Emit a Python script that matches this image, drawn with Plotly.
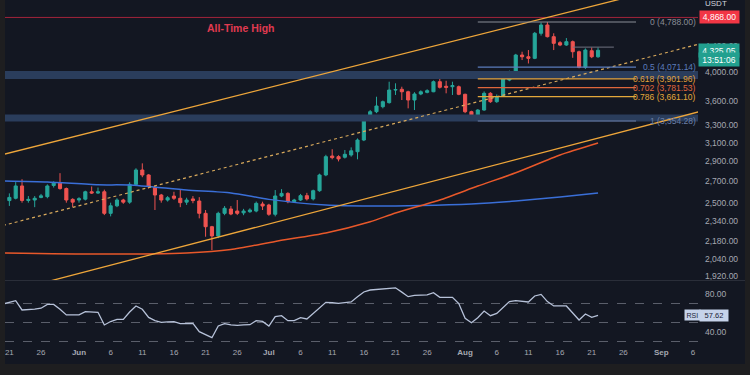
import math
import pandas as pd
import plotly.graph_objects as go

# ---------------- data ----------------
candle_dates = pd.date_range("2025-05-21", "2025-08-22", freq="D")
opens = [2519, 2540, 2655, 2520, 2524, 2548, 2555, 2660, 2682, 2630, 2530,
         2524, 2532, 2600, 2588, 2600, 2406, 2472, 2524, 2505, 2670, 2812, 2762, 2640, 2570,
         2524, 2560, 2540, 2505, 2534, 2515, 2406, 2293, 2218, 2406, 2444, 2426, 2410, 2420,
         2426, 2488,
         2479, 2398, 2561, 2585, 2509, 2524, 2564, 2534, 2610, 2762, 2957, 2950, 2944, 2968,
         3003, 3132, 3366, 3468, 3531, 3583, 3749, 3759, 3726, 3617, 3696, 3718, 3726, 3863,
         3800, 3794, 3794,
         3692, 3468, 3386, 3489, 3705, 3595, 3669, 3886, 4004, 4252, 4226, 4202, 4598, 4737,
         4542, 4445, 4408, 4461, 4303, 4068, 4318, 4226]
highs = [2585, 2692, 2720, 2560, 2560, 2580, 2670, 2700, 2780, 2640, 2540,
         2550, 2610, 2650, 2640, 2620, 2500, 2540, 2535, 2690, 2830, 2880, 2770, 2650, 2580,
         2560, 2600, 2620, 2545, 2560, 2550, 2435, 2300, 2420, 2470, 2470, 2524, 2445, 2450,
         2510, 2509,
         2490, 2616, 2625, 2595, 2535, 2580, 2590, 2620, 2775, 2970, 3030, 2965, 3022, 3050,
         3150, 3380, 3490, 3660, 3610, 3863, 3841, 3794, 3740, 3720, 3745, 3760, 3880, 3957,
         3876, 3863, 3810,
         3700, 3480, 3500, 3730, 3720, 3690, 3920, 4020, 4270, 4303, 4329, 4620, 4780, 4788,
         4598, 4470, 4520, 4480, 4320, 4355, 4370, 4370]
lows = [2471, 2530, 2500, 2500, 2460, 2540, 2540, 2640, 2620, 2500, 2460,
        2500, 2520, 2580, 2580, 2391, 2380, 2460, 2490, 2490, 2660, 2740, 2630, 2435, 2500,
        2510, 2525, 2460, 2480, 2495, 2363, 2212, 2108, 2200, 2390, 2390, 2391, 2390, 2410,
        2415, 2435,
        2385, 2380, 2550, 2495, 2500, 2515, 2520, 2520, 2600, 2750, 2922, 2900, 2930, 2950,
        2922, 3120, 3350, 3450, 3510, 3570, 3683, 3617, 3510, 3489, 3680, 3705, 3720, 3770,
        3705, 3683, 3680,
        3450, 3366, 3354.28, 3480, 3580, 3580, 3660, 3870, 3990, 4176, 4125, 4190, 4560, 4530,
        4329, 4390, 4395, 4210, 4054, 4044, 4205, 4210]
closes = [2548, 2655, 2520, 2530, 2540, 2562, 2655, 2682, 2630, 2524, 2505,
          2536, 2600, 2588, 2600, 2406, 2472, 2524, 2505, 2670, 2812, 2762, 2648, 2570, 2524,
          2545, 2540, 2500, 2524, 2519, 2406, 2293, 2218, 2406, 2450, 2400, 2406, 2426, 2435,
          2494, 2470,
          2398, 2561, 2585, 2509, 2524, 2564, 2534, 2610, 2762, 2950, 2940, 2926, 2975, 3013,
          3132, 3366, 3468, 3540, 3595, 3749, 3755, 3726, 3617, 3696, 3726, 3740, 3863, 3786,
          3786, 3810, 3692,
          3468, 3386, 3489, 3705, 3595, 3660, 3910, 4004, 4252, 4226, 4202, 4598, 4737, 4542,
          4435, 4408, 4461, 4303, 4068, 4329, 4226, 4325.05]

rsi_dates = pd.date_range("2025-05-20", "2025-08-22", freq="D")
rsi_values = [69.5, 71, 73, 63.2, 63.5, 64, 65, 69, 69, 64, 58, 58,
              58, 61.4, 60.7, 60.7, 47.4, 51, 53.3, 53.3, 61, 67.4, 63.9, 55.4, 52, 50.2,
              50.6, 50.9, 48.8, 49, 49.1, 40.3, 37, 34, 46.3, 48.8, 47.5, 47, 47.5, 47.7,
              51.9, 51.2,
              46.3, 56.1, 57.2, 51.9, 51.9, 55.1, 53.7, 59.6, 66, 71.2, 71, 70.2, 71, 71.6,
              77, 82.1, 84.2, 84.9, 85.3, 86.5, 86.5, 82, 77.2, 78.6, 78.9, 79, 81.4, 76.5,
              76.5, 76.5, 70,
              54.4, 49.8, 55, 62.1, 57.2, 59.6, 66, 72, 73, 72.5, 71.6, 77.9, 79.6, 72,
              67.4, 67.4, 67.4, 60, 52.6, 58.9, 55.4, 57.62]

ma_blue_dates = ["2025-05-20", "2025-05-27", "2025-06-04", "2025-06-09", "2025-06-18",
                 "2025-06-25", "2025-07-01", "2025-07-10", "2025-07-17", "2025-07-25",
                 "2025-08-02", "2025-08-09", "2025-08-16", "2025-08-22"]
ma_blue_values = [2703, 2693, 2666, 2664, 2616, 2589, 2530, 2479, 2470, 2474, 2488, 2515, 2552, 2589]

ma_red_dates = ["2025-05-20", "2025-06-04", "2025-06-18", "2025-06-25", "2025-07-02",
                "2025-07-10", "2025-07-17", "2025-07-21", "2025-07-28", "2025-08-03",
                "2025-08-09", "2025-08-16", "2025-08-22"]
ma_red_values = [2086, 2078, 2086, 2112, 2175, 2242, 2334, 2409, 2524, 2654, 2784, 2968, 3098]

channel_dates = ["2025-05-20", "2025-09-07"]
upper_channel = [2973, 5585]
lower_channel = [1805, 3468]
mid_channel = [2303, 4424]

fib_ratios = ["0", "0.5", "0.618", "0.702", "0.786", "1"]
fib_prices = [4788.00, 4071.14, 3901.96, 3781.53, 3661.10, 3354.28]
fib_start, fib_end = "2025-08-03", "2025-08-28"

zone_lows = [3900, 3347]
zone_highs = [4015, 3433]

ath_price = 4868.00
ath_label = "All-Time High"
short_line_dates = ["2025-08-18", "2025-08-24 12:00"]
short_line_price = 4375

last_price = 4325.05
countdown = "13:51:06"
rsi_last = 57.62

price_ticks = [4400, 4000, 3600, 3300, 3100, 2900, 2700, 2500, 2340, 2180, 2040, 1920]
rsi_ticks = [40, 80]
rsi_levels = [70, 50, 30]

x_tick_dates = ["2025-05-21", "2025-05-26", "2025-06-01", "2025-06-06", "2025-06-11",
                "2025-06-16", "2025-06-21", "2025-06-26", "2025-07-01", "2025-07-06",
                "2025-07-11", "2025-07-16", "2025-07-21", "2025-07-26", "2025-08-01",
                "2025-08-06", "2025-08-11", "2025-08-16", "2025-08-21", "2025-08-26",
                "2025-09-01", "2025-09-06"]
x_tick_text = ["21", "26", "Jun", "6", "11", "16", "21", "26", "Jul", "6", "11", "16",
               "21", "26", "Aug", "6", "11", "16", "21", "26", "Sep", "6"]

# ---------------- style / geometry ----------------
W, H = 750, 375
ML, MR, MT, MB = 5, 52, 0, 29
PW, PH = W - ML - MR, H - MT - MB

def px(x):
    return (x - ML) / PW

def py(y):
    return (PH - y) / PH

BG = "#131722"
FRAME = "#1e1e20"
UP, DOWN = "#26a69a", "#ef5350"
AXIS_TXT = "#a5a8b1"
FONT = "Liberation Sans"
fib_colors = ["#8a8d96", "#5b7cbc", "#e3a23b", "#e0673c", "#e3a83b", "#6a7fa8"]

x_range = ["2025-05-20 07:26", "2025-09-06 19:00"]
main_range = [math.log10(1893), math.log10(5183)]
rsi_range = [25.26, 93.68]

fig = go.Figure()

# zones
for lo, hi in zip(zone_lows, zone_highs):
    fig.add_trace(go.Scatter(x=[x_range[0], x_range[1], x_range[1], x_range[0], x_range[0]],
                             y=[lo, lo, hi, hi, lo], fill="toself", fillcolor="#2a3d5c",
                             line=dict(width=0), mode="lines", hoverinfo="skip"))

# moving averages
fig.add_trace(go.Scatter(x=ma_blue_dates, y=ma_blue_values, mode="lines",
                         line=dict(color="#3a6fd8", width=1.5, shape="spline", smoothing=0.6),
                         hoverinfo="skip"))
fig.add_trace(go.Scatter(x=ma_red_dates, y=ma_red_values, mode="lines",
                         line=dict(color="#e8582a", width=1.5, shape="spline", smoothing=0.6),
                         hoverinfo="skip"))

# candles
fig.add_trace(go.Candlestick(x=candle_dates, open=opens, high=highs, low=lows, close=closes,
                             increasing=dict(line=dict(color=UP, width=1), fillcolor=UP),
                             decreasing=dict(line=dict(color=DOWN, width=1), fillcolor=DOWN),
                             whiskerwidth=0, hoverinfo="skip"))

# ATH line
fig.add_trace(go.Scatter(x=x_range, y=[ath_price, ath_price], mode="lines",
                         line=dict(color="#a3243b", width=1), hoverinfo="skip"))

# channel lines
fig.add_trace(go.Scatter(x=channel_dates, y=upper_channel, mode="lines",
                         line=dict(color="#eea63a", width=1.3), hoverinfo="skip"))
fig.add_trace(go.Scatter(x=channel_dates, y=lower_channel, mode="lines",
                         line=dict(color="#eea63a", width=1.3), hoverinfo="skip"))
fig.add_trace(go.Scatter(x=channel_dates, y=mid_channel, mode="lines",
                         line=dict(color="#d9aa5c", width=1.2, dash="dot"), hoverinfo="skip"))

# fib lines
for p, c in zip(fib_prices, fib_colors):
    fig.add_trace(go.Scatter(x=[fib_start, fib_end], y=[p, p], mode="lines",
                             line=dict(color=c, width=1.1), hoverinfo="skip"))

fig.add_trace(go.Scatter(x=short_line_dates, y=[short_line_price, short_line_price], mode="lines",
                         line=dict(color="#6f7380", width=1), hoverinfo="skip"))

# RSI
for lv in rsi_levels:
    fig.add_trace(go.Scatter(x=x_range, y=[lv, lv], mode="lines", yaxis="y2",
                             line=dict(color="#5a5e6a", width=1, dash="dash"), hoverinfo="skip"))
fig.add_trace(go.Scatter(x=rsi_dates, y=rsi_values, mode="lines", yaxis="y2",
                         line=dict(color="#b7c2d9", width=1.3), hoverinfo="skip"))

annotations = []
for r, p, c in zip(fib_ratios, fib_prices, fib_colors):
    annotations.append(dict(xref="paper", yref="y", x=1.0, y=math.log10(p), xanchor="right",
                            yanchor="middle", text=f"{r} ({p:,.2f})", showarrow=False,
                            font=dict(size=8.5, color=c, family=FONT)))
annotations.append(dict(xref="paper", yref="paper", x=px(240), y=py(28), xanchor="center",
                        yanchor="middle", text=f"<b>{ath_label}</b>",
                        showarrow=False, font=dict(size=10.5, color="#e03a50", family=FONT)))
annotations.append(dict(xref="paper", yref="y", x=px(719), y=math.log10(ath_price),
                        xanchor="center", yanchor="middle",
                        text=f"{ath_price:,.2f}", showarrow=False, bgcolor="#f23645", width=37,
                        borderpad=1, font=dict(size=8.5, color="#ffffff", family=FONT)))
annotations.append(dict(xref="paper", yref="y", x=px(719), y=math.log10(last_price),
                        xanchor="center", yanchor="middle",
                        text=f"{last_price:,.2f}", showarrow=False, bgcolor="#22a08f", width=37,
                        borderpad=1.5, font=dict(size=8.5, color="#ffffff", family=FONT)))
annotations.append(dict(xref="paper", yref="y", x=px(719), y=math.log10(last_price), yshift=-9,
                        xanchor="center", yanchor="middle",
                        text=countdown, showarrow=False, bgcolor="#22a08f", width=37,
                        borderpad=1.5, font=dict(size=8.5, color="#ffffff", family=FONT)))
annotations.append(dict(xref="paper", yref="paper", x=px(716), y=py(4), xanchor="center",
                        yanchor="middle", text="USDT",
                        showarrow=False, font=dict(size=8, color="#d1d4dc", family=FONT)))
annotations.append(dict(xref="paper", yref="y2", x=px(692.5), y=rsi_last, xanchor="center",
                        yanchor="middle", text="RSI",
                        showarrow=False, bgcolor="#c6d3ea", borderpad=1.5,
                        font=dict(size=7, color="#1b2338", family=FONT)))
annotations.append(dict(xref="paper", yref="y2", x=px(714), y=rsi_last, xanchor="center",
                        yanchor="middle", text=f"{rsi_last:.2f}",
                        showarrow=False, bgcolor="#c6d3ea", width=26, borderpad=1,
                        font=dict(size=7.5, color="#1b2338", family=FONT)))

shapes = [
    dict(type="line", xref="paper", yref="paper", x0=px(5), x1=px(745), y0=py(280.5), y1=py(280.5),
         line=dict(color="#2a2e39", width=1)),
    dict(type="rect", xref="paper", yref="paper", x0=px(0), x1=px(5), y0=py(375), y1=py(0),
         fillcolor=FRAME, line=dict(width=0)),
    dict(type="rect", xref="paper", yref="paper", x0=px(745), x1=px(750), y0=py(375), y1=py(0),
         fillcolor=FRAME, line=dict(width=0)),
    dict(type="rect", xref="paper", yref="paper", x0=px(0), x1=px(750), y0=py(375), y1=py(364),
         fillcolor=FRAME, line=dict(width=0)),
]

x_ticktext = [f"<b>{t}</b>" if t.isalpha() else t for t in x_tick_text]

fig.update_layout(
    width=W, height=H, margin=dict(l=ML, r=MR, t=MT, b=MB),
    paper_bgcolor=BG, plot_bgcolor=BG, showlegend=False, hovermode=False,
    font=dict(family=FONT, color=AXIS_TXT, size=8.5),
    xaxis=dict(type="date", range=x_range, anchor="y2", tickvals=x_tick_dates, ticktext=x_ticktext,
               showgrid=False, zeroline=False, showline=False, ticks="",
               tickfont=dict(size=8, color=AXIS_TXT, family=FONT),
               rangeslider=dict(visible=False)),
    yaxis=dict(type="log", domain=[py(280), 1], range=main_range, side="right", anchor="x",
               tickvals=price_ticks, ticktext=[f"{v:,.2f}" for v in price_ticks],
               showgrid=False, zeroline=False, showline=False, ticks="", ticklabelstandoff=6,
               tickfont=dict(size=8.5, color=AXIS_TXT, family=FONT)),
    yaxis2=dict(domain=[0, py(281)], range=rsi_range, side="right", anchor="x",
                tickvals=rsi_ticks, ticktext=[f"{v:.2f}" for v in rsi_ticks],
                showgrid=False, zeroline=False, showline=False, ticks="", ticklabelstandoff=6,
                tickfont=dict(size=8.5, color=AXIS_TXT, family=FONT)),
    annotations=annotations, shapes=shapes,
)

fig.write_html("out.html", config={"displayModeBar": False, "staticPlot": True},
               post_script="document.body.style.margin='0';document.body.style.overflow='hidden';")
